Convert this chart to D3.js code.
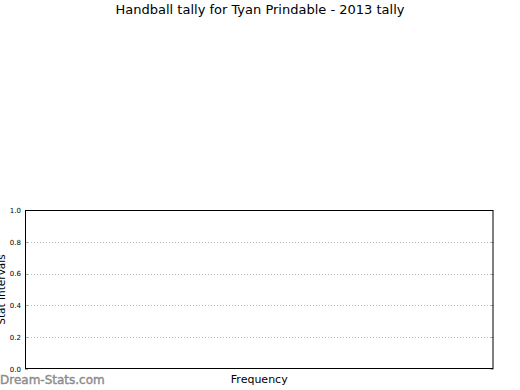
<!DOCTYPE html>
<html>
<head>
<meta charset="utf-8">
<script src="https://cdn.jsdelivr.net/npm/d3@7"></script>
<style>
  body { margin: 0; background: #fff; }
  svg { display: block; font-family: "DejaVu Sans", sans-serif; }
</style>
</head>
<body>
<svg id="svg" width="520" height="390"></svg>
<script>
// chart data (empty tally)
var titleText = "Handball tally for Tyan Prindable - 2013 tally";
var yTicks = [0.0, 0.2, 0.4, 0.6, 0.8, 1.0];
var yDomain = [0, 1];
var xDomain = [0, 1];
var values = [];

var svg = d3.select("#svg"),
    width = 520,
    height = 390;

var plot = { left: 25, top: 210, right: 493.5, bottom: 369 };

var x = d3.scaleLinear().domain(xDomain).range([plot.left, plot.right]);
var y = d3.scaleLinear().domain(yDomain).range([plot.bottom, plot.top]);

// title
svg.append("text")
    .attr("x", width / 2)
    .attr("y", 14)
    .attr("text-anchor", "middle")
    .style("font-size", "13px")
    .text(titleText);

// dotted grid
svg.append("g")
  .selectAll("line")
  .data(yTicks.filter(function(d){ return d > 0 && d < 1; }))
  .enter().append("line")
    .attr("x1", plot.left)
    .attr("x2", plot.right)
    .attr("y1", function(d){ return Math.round(y(d)) + 0.5; })
    .attr("y2", function(d){ return Math.round(y(d)) + 0.5; })
    .attr("stroke", "#bbb")
    .attr("stroke-dasharray", "1,2");

// bars (none for this tally)
svg.append("g").selectAll("rect")
  .data(values)
  .enter().append("rect")
    .attr("x", function(d){ return x(d.x0); })
    .attr("width", function(d){ return x(d.x1) - x(d.x0); })
    .attr("y", function(d){ return y(d.v); })
    .attr("height", function(d){ return y(0) - y(d.v); });

// left axis: labels + small inward ticks
var yAxis = d3.axisLeft(y)
    .tickValues(yTicks)
    .tickFormat(d3.format(".1f"))
    .tickSize(0)
    .tickPadding(4);

var gy = svg.append("g")
    .attr("transform", "translate(" + plot.left + ",0)")
    .call(yAxis);
gy.select(".domain").remove();
gy.selectAll("text").style("font-size", "7px").style("font-family", "DejaVu Sans").attr("fill", "#000");

svg.append("g").selectAll("line")
  .data(yTicks)
  .enter().append("line")
    .attr("x1", plot.left)
    .attr("x2", plot.left + 3)
    .attr("y1", function(d){ return Math.round(y(d)) + 0.5; })
    .attr("y2", function(d){ return Math.round(y(d)) + 0.5; })
    .attr("stroke", "#aaa");

svg.append("g").selectAll("line")
  .data(yTicks)
  .enter().append("line")
    .attr("x1", plot.right - 3)
    .attr("x2", plot.right)
    .attr("y1", function(d){ return Math.round(y(d)) + 0.5; })
    .attr("y2", function(d){ return Math.round(y(d)) + 0.5; })
    .attr("stroke", "#aaa");

// frame
svg.append("rect")
    .attr("x", plot.left + 0.5)
    .attr("y", plot.top + 0.5)
    .attr("width", plot.right - plot.left - 1)
    .attr("height", plot.bottom - plot.top - 1)
    .attr("fill", "none")
    .attr("stroke", "#000");

// axis labels
svg.append("text")
    .attr("x", (plot.left + plot.right) / 2)
    .attr("y", 383)
    .attr("text-anchor", "middle")
    .style("font-size", "11px")
    .text("Frequency");

svg.append("text")
    .attr("transform", "translate(5," + ((plot.top + plot.bottom) / 2) + ") rotate(-90)")
    .attr("text-anchor", "middle")
    .style("font-size", "10.5px")
    .text("Stat Intervals");

// watermark
svg.append("text")
    .attr("x", 0)
    .attr("y", 384)
    .style("font-size", "12px")
    .attr("fill", "#8c8c8c")
    .attr("stroke", "#8c8c8c")
    .attr("stroke-width", 0.4)
    .text("Dream-Stats.com");
</script>
</body>
</html>
